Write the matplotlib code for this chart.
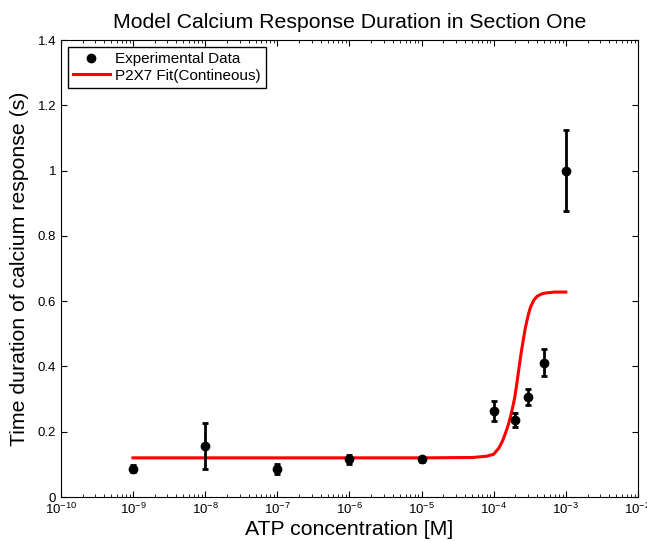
import matplotlib
matplotlib.use('Agg')
import matplotlib.pyplot as plt
from matplotlib.ticker import LogLocator, NullFormatter

plt.rcParams['font.family'] = ['Liberation Sans', 'DejaVu Sans']

# experimental data (ATP concentration in M, duration in s)
atp_conc = [1e-9, 1e-8, 1e-7, 1e-6, 1e-5, 1e-4, 2e-4, 3e-4, 5e-4, 1e-3]
duration = [0.087, 0.157, 0.087, 0.115, 0.115, 0.263, 0.237, 0.307, 0.411, 1.0]
duration_err = [0.010, 0.071, 0.015, 0.013, 0.009, 0.031, 0.021, 0.024, 0.041, 0.125]

# P2X7 fit curve
fit_conc = [1e-9, 1e-5, 5e-5, 8e-5, 1e-4, 1.18e-4, 1.33e-4, 1.46e-4, 1.6e-4, 1.71e-4,
            1.84e-4, 1.96e-4, 2.07e-4, 2.18e-4, 2.3e-4, 2.43e-4, 2.6e-4, 2.76e-4,
            3.0e-4, 3.24e-4, 3.6e-4, 4.0e-4, 4.6e-4, 5.2e-4, 7e-4, 1e-3]
fit_dur = [0.12, 0.12, 0.121, 0.125, 0.131, 0.150, 0.172, 0.196, 0.222, 0.246,
           0.276, 0.305, 0.340, 0.375, 0.412, 0.448, 0.487, 0.520, 0.556, 0.582,
           0.603, 0.615, 0.622, 0.625, 0.628, 0.628]

x_ticks = [1e-10, 1e-9, 1e-8, 1e-7, 1e-6, 1e-5, 1e-4, 1e-3, 1e-2]
y_ticks = [0, 0.2, 0.4, 0.6, 0.8, 1.0, 1.2, 1.4]
y_ticklabels = ['0', '0.2', '0.4', '0.6', '0.8', '1', '1.2', '1.4']

fig = plt.figure(figsize=(6.47, 5.42), dpi=100)
ax = fig.add_axes([0.094, 0.083, 0.892, 0.843])

ax.errorbar(atp_conc, duration, yerr=duration_err, fmt='none', ecolor='black',
            elinewidth=2, capsize=2, capthick=2, zorder=3)
ax.plot(atp_conc, duration, 'o', color='black', ms=6, label='Experimental Data', zorder=4)
ax.plot(fit_conc, fit_dur, color='red', lw=2.2, label='P2X7 Fit(Contineous)', zorder=2)

ax.set_xscale('log')
ax.set_xlim(1e-10, 1e-2)
ax.set_ylim(0, 1.4)
ax.set_xticks(x_ticks)
ax.xaxis.set_minor_locator(LogLocator(base=10, subs=range(2, 10), numticks=100))
ax.xaxis.set_minor_formatter(NullFormatter())
ax.set_yticks(y_ticks)
ax.set_yticklabels(y_ticklabels)
ax.tick_params(which='both', direction='in', top=True, right=True, labelsize=9.5)
ax.tick_params(which='major', length=4)
ax.tick_params(which='minor', length=2)

ax.set_title('Model Calcium Response Duration in Section One', fontsize=15.3, pad=9)
ax.set_xlabel('ATP concentration [M]', fontsize=15.3, labelpad=2)
ax.set_ylabel('Time duration of calcium response (s)', fontsize=15.3, labelpad=6)

leg = ax.legend(loc='upper left', fontsize=11, fancybox=False, edgecolor='black',
                framealpha=1, borderaxespad=0.45, handlelength=2.4,
                handletextpad=0.35, labelspacing=0.15, borderpad=0.35)
leg.get_frame().set_linewidth(1)

fig.savefig('out.png', dpi=100)
